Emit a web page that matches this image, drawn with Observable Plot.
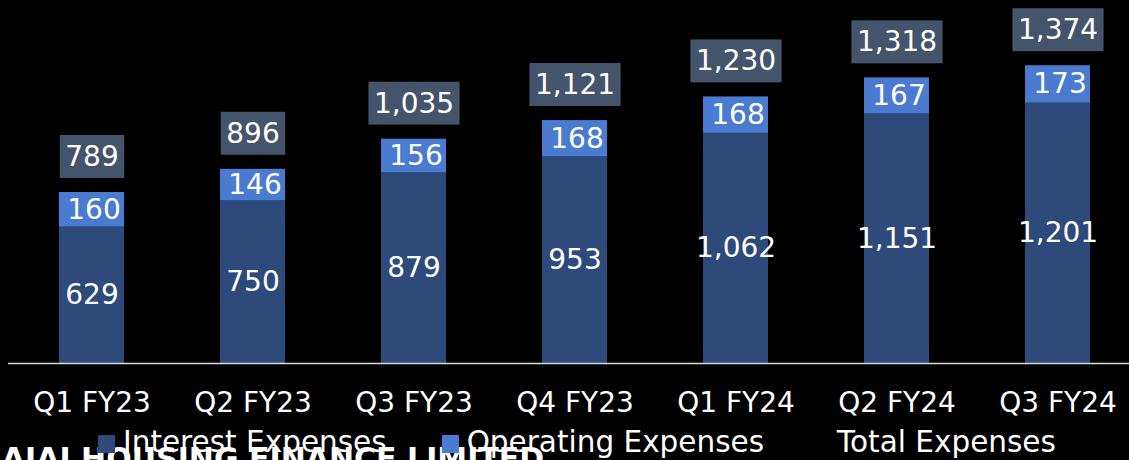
<!DOCTYPE html>
<html>
<head>
<meta charset="utf-8">
<script src="https://cdn.jsdelivr.net/npm/d3@7"></script>
<script src="https://cdn.jsdelivr.net/npm/@observablehq/plot@0.6"></script>
<style>
  html, body { margin: 0; padding: 0; background: #000; }
  #wrap { position: relative; width: 1129px; height: 460px; overflow: hidden; background: #000; font-family: "DejaVu Sans", sans-serif; color: #fff; }
  #chart { position: absolute; left: 0; top: 0; }
  #topline { position: absolute; left: 37px; top: 31px; width: 303px; height: 2px; background: #bfbfbf; }
  #brand { position: absolute; left: -21px; top: 443.5px; white-space: nowrap; font-weight: bold; font-size: 30px; line-height: 30px; }
  #legend { position: absolute; left: 98px; top: 426.8px; display: flex; align-items: center; font-size: 29.5px; line-height: 30px; white-space: nowrap; }
  #legend .item { display: flex; align-items: center; margin-right: 55px; }
  #legend .item:nth-child(2) { margin-right: 48px; }
  #legend .sw { width: 17px; height: 18px; margin-right: 8px; margin-top: 5px; }
</style>
</head>
<body>
<div id="wrap">
  <div id="brand">BAJAJ HOUSING FINANCE LIMITED</div>
  <div id="topline"></div>
  <div id="chart"></div>
  <div id="legend"></div>
</div>
<script>
const quarters = ["Q1 FY23", "Q2 FY23", "Q3 FY23", "Q4 FY23", "Q1 FY24", "Q2 FY24", "Q3 FY24"];
const interest = [629, 750, 879, 953, 1062, 1151, 1201];
const operating = [160, 146, 156, 168, 168, 167, 173];
const totals = [789, 896, 1035, 1121, 1230, 1318, 1374];
const series = ["Interest Expenses", "Operating Expenses"];
const totalLabel = "Total Expenses";
const colors = ["#2D4A7A", "#4A7BD0"];
const totalColor = "#44546A";

const fmt = d3.format(",");
const rows = quarters.flatMap((q, i) => [
  {quarter: q, series: series[0], value: interest[i]},
  {quarter: q, series: series[1], value: operating[i]}
]);
const totalRows = quarters.map((q, i) => ({quarter: q, total: totals[i]}));

const chart = Plot.plot({
  width: 1129,
  height: 425,
  marginLeft: 8,
  marginRight: 0,
  marginTop: 0,
  marginBottom: 62,
  style: {background: "#000", color: "#fff", fontFamily: "DejaVu Sans", fontSize: "28px", overflow: "visible"},
  x: {domain: quarters, range: [7.6, 1140.4], paddingInner: 0.598, paddingOuter: 0.299, label: null},
  y: {domain: [0, 1675], axis: null},
  color: {domain: series, range: colors},
  marks: [
    Plot.barY(rows, Plot.stackY({x: "quarter", y: "value", fill: "series", z: "series", order: series})),
    Plot.ruleY([0], {stroke: "#d9d9d9", strokeWidth: 1.5}),
    Plot.text(rows, Plot.stackY({x: "quarter", y: "value", z: "series", order: series,
      text: d => d.series === series[0] ? fmt(d.value) : "", fill: "#fff", fontSize: 28})),
    Plot.text(rows, Plot.stackY({x: "quarter", y: "value", z: "series", order: series,
      text: d => d.series === series[1] ? fmt(d.value) : "", fill: "#fff", fontSize: 28, dx: 2})),
    Plot.text(totalRows, {x: "quarter", y: "total", text: d => fmt(d.total), dy: -35.5, fill: "#fff", fontSize: 28, className: "total-labels"}),
    Plot.axisX({tickSize: 0, tickPadding: 29, fontSize: 28, label: null})
  ]
});
document.getElementById("chart").appendChild(chart);

// boxes behind total labels, sized from the rendered text
const NS = "http://www.w3.org/2000/svg";
chart.querySelectorAll("g.total-labels text").forEach(t => {
  const b = t.getBBox();
  const cy = b.y + b.height / 2;
  const r = document.createElementNS(NS, "rect");
  r.setAttribute("x", b.x - 5.5);
  r.setAttribute("y", cy - 21.5);
  r.setAttribute("width", b.width + 11);
  r.setAttribute("height", 43);
  r.setAttribute("fill", totalColor);
  if (t.getAttribute("transform")) r.setAttribute("transform", t.getAttribute("transform"));
  t.parentNode.insertBefore(r, t);
});

// legend
const legend = document.getElementById("legend");
[...series, totalLabel].forEach((s, i) => {
  const item = document.createElement("div");
  item.className = "item";
  const sw = document.createElement("span");
  sw.className = "sw";
  sw.style.background = i < colors.length ? colors[i] : "transparent";
  const tx = document.createElement("span");
  tx.textContent = s;
  item.appendChild(sw);
  item.appendChild(tx);
  legend.appendChild(item);
});
</script>
</body>
</html>
